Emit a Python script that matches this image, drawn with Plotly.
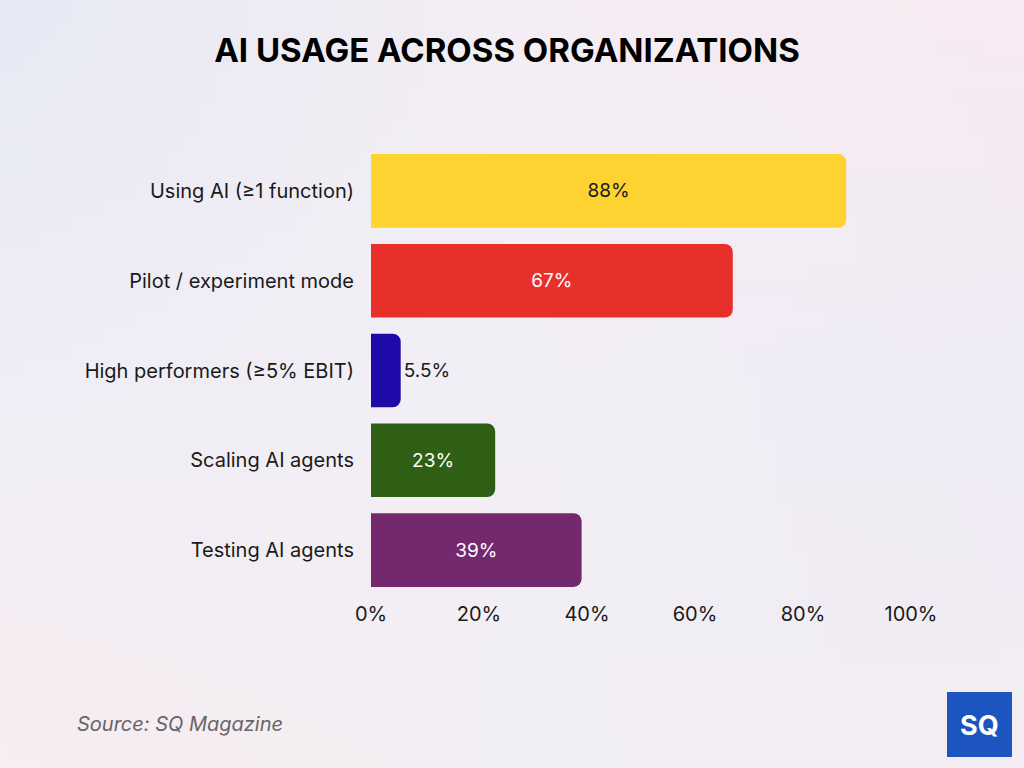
import base64
import struct
import zlib

import plotly.graph_objects as go

categories = ["Using AI (≥1 function)", "Pilot / experiment mode", "High performers (≥5% EBIT)",
              "Scaling AI agents", "Testing AI agents"]
values = [88, 67, 5.5, 23, 39]
labels = ["88%", "67%", "5.5%", "23%", "39%"]
colors = ["#FDD231", "#E8302A", "#1E0AA8", "#2F5F14", "#74296F"]
text_colors = ["#1a1a1a", "#ffffff", "#1a1a1a", "#ffffff", "#ffffff"]
text_pos = ["inside", "inside", "outside", "inside", "inside"]
tick_vals = [0, 20, 40, 60, 80, 100]
tick_text = ["0%", "20%", "40%", "60%", "80%", "100%"]

# background gradient anchors (3x3 grid, RGB)
bg_anchors = [
    [(230, 233, 244), (244, 237, 244), (248, 234, 242)],
    [(239, 237, 245), (242, 238, 245), (238, 235, 245)],
    [(248, 237, 241), (241, 238, 243), (243, 236, 243)],
]


def gradient_png(anchors, w=64, h=48):
    def lerp(a, b, t):
        return tuple(a[i] + (b[i] - a[i]) * t for i in range(3))

    rows = []
    for j in range(h):
        fy = j / (h - 1) * 2
        r0 = min(int(fy), 1)
        ty = fy - r0
        row = bytearray([0])
        for i in range(w):
            fx = i / (w - 1) * 2
            c0 = min(int(fx), 1)
            tx = fx - c0
            top = lerp(anchors[r0][c0], anchors[r0][c0 + 1], tx)
            bot = lerp(anchors[r0 + 1][c0], anchors[r0 + 1][c0 + 1], tx)
            c = lerp(top, bot, ty)
            row += bytes(int(round(v)) for v in c)
        rows.append(bytes(row))
    raw = b"".join(rows)

    def chunk(tag, data):
        return struct.pack(">I", len(data)) + tag + data + struct.pack(">I", zlib.crc32(tag + data) & 0xffffffff)

    png = b"\x89PNG\r\n\x1a\n" + chunk(b"IHDR", struct.pack(">IIBBBBB", w, h, 8, 2, 0, 0, 0)) \
        + chunk(b"IDAT", zlib.compress(raw, 9)) + chunk(b"IEND", b"")
    return "data:image/png;base64," + base64.b64encode(png).decode()


fig = go.Figure()
fig.add_trace(go.Bar(
    y=categories, x=values, orientation="h",
    marker=dict(color=colors, cornerradius=8, line=dict(width=0)),
    text=labels, textposition=text_pos, insidetextanchor="middle",
    textfont=dict(family="Inter", size=19, color=text_colors),
    outsidetextfont=dict(family="Inter", size=19, color="#1a1a1a"),
    cliponaxis=False, width=0.82,
))

W, H = 1024, 768
L, R, T, B = 371, 113, 146, 173
PW, PH = W - L - R, H - T - B


def px(x):
    return (x - L) / PW


def py(y):
    return (H - B - y) / PH


fig.update_layout(
    width=W, height=H,
    margin=dict(l=L, r=R, t=T, b=B),
    paper_bgcolor="#F1EDF3", plot_bgcolor="rgba(0,0,0,0)",
    showlegend=False,
    images=[dict(source=gradient_png(bg_anchors), xref="paper", yref="paper",
                 x=px(0), y=py(0), sizex=W / PW, sizey=H / PH, sizing="stretch",
                 xanchor="left", yanchor="top", layer="below")],
    title=dict(text="<b>AI USAGE ACROSS ORGANIZATIONS</b>", x=507 / W, xanchor="center",
               y=1 - 50 / H, yanchor="middle",
               font=dict(family="Inter", size=33, color="#000000", weight=900)),
    xaxis=dict(range=[0, 100], tickvals=tick_vals, ticktext=tick_text, showgrid=False,
               zeroline=False, showline=False, ticks="", ticklabelstandoff=5,
               tickfont=dict(family="Inter", size=20, color="#1a1a1a")),
    yaxis=dict(categoryorder="array", categoryarray=categories[::-1], showgrid=False,
               zeroline=False, showline=False, ticks="", ticklabelstandoff=16,
               tickfont=dict(family="Inter", size=20, color="#1a1a1a")),
)

fig.add_annotation(text="Source: SQ Magazine", xref="paper", yref="paper",
                   x=px(75), xanchor="left", y=py(724), yanchor="middle",
                   showarrow=False,
                   font=dict(family="Inter", size=20, color="#666666", style="italic"))

# logo
fig.add_shape(type="rect", xref="paper", yref="paper",
              x0=px(947), x1=px(1012), y0=py(757), y1=py(692),
              fillcolor="#1C55C0", line=dict(width=0))
fig.add_annotation(text="<b>SQ</b>", xref="paper", yref="paper",
                   x=px(979.5), xanchor="center", y=py(725), yanchor="middle",
                   showarrow=False, font=dict(family="Inter", size=27, color="#ffffff", weight=800))

fig.write_html("out.html")
